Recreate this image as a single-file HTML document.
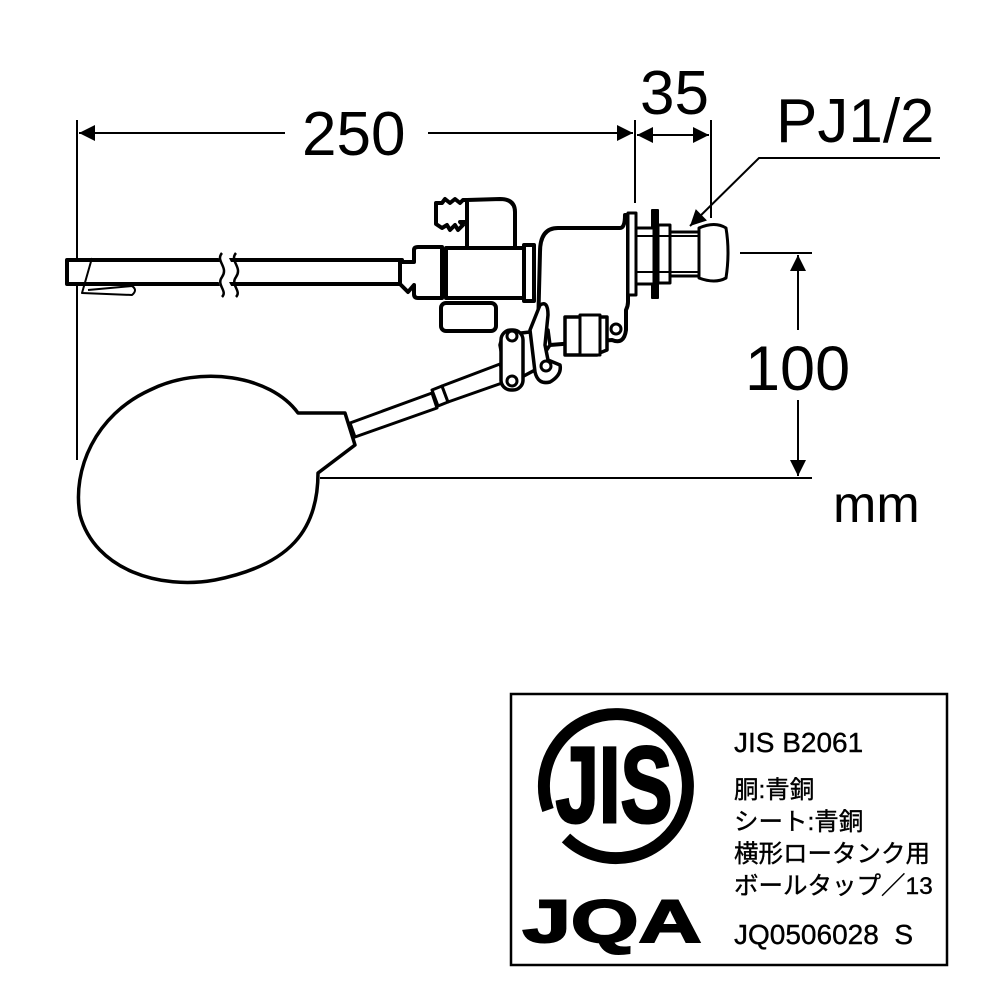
<!DOCTYPE html>
<html><head><meta charset="utf-8"><style>
html,body{margin:0;padding:0;background:#fff;}
svg{display:block;}
</style></head><body>
<svg width="1000" height="1000" viewBox="0 0 1000 1000" xmlns="http://www.w3.org/2000/svg" font-family="Liberation Sans, sans-serif">
<defs>
<marker id="b" viewBox="0 0 10 10" refX="10" refY="5" markerWidth="22" markerHeight="16" markerUnits="userSpaceOnUse" orient="auto-start-reverse"><path d="M0,0 L10,5 L0,10 Z" fill="#000"/></marker>
</defs>
<g stroke="#000" stroke-width="2" fill="none">
<line x1="77" y1="120" x2="77" y2="460"/>
<line x1="635" y1="120" x2="635" y2="203"/>
<line x1="711" y1="120" x2="711" y2="218"/>
<line x1="79" y1="133" x2="285" y2="133" marker-start="url(#b)"/>
<line x1="428" y1="133" x2="633" y2="133" marker-end="url(#b)"/>
<line x1="637" y1="135" x2="709" y2="135" marker-start="url(#b)" marker-end="url(#b)"/>
<line x1="740" y1="253" x2="812" y2="253"/>
<line x1="320" y1="478" x2="812" y2="478"/>
<line x1="798" y1="255" x2="798" y2="330" marker-start="url(#b)"/>
<line x1="798" y1="400" x2="798" y2="476" marker-end="url(#b)"/>
<polyline points="940,158 759,158 690,226" marker-end="url(#b)"/>
</g>
<g font-size="60" fill="#000">
<text x="302" y="155" font-size="62">250</text>
<text x="640" y="114" font-size="62">35</text>
<text x="776" y="142" font-size="62">PJ1/2</text>
<text x="745" y="390" font-size="63">100</text>
<text x="833" y="522" font-size="52">mm</text>
</g>
<g stroke="#000" stroke-width="4" fill="#fff" stroke-linejoin="round">
<rect x="67" y="260" width="335" height="24"/>
<path d="M226,252 c-8,8 8,14 0,24 c-8,8 8,14 0,22" stroke="#fff" stroke-width="10" fill="none"/>
<path d="M222,253 c-7,8 7,14 0,24 c-6,8 6,14 0,20 M236,253 c-7,8 7,14 0,24 c-6,8 6,14 0,20" stroke-width="2.5" fill="none"/>
<path d="M92,258 L82,293 L132,295 Q138,290 132,286 L88,290" stroke-width="2" fill="none"/>
<path d="M298,413 C270,375 200,365 150,390 C95,415 72,470 80,515 C95,570 160,590 215,580 C290,565 318,530 318,473 L355,445 L345,413 Z" stroke-width="3.5"/>
<path d="M350,423 L432,393 L437,408 L355,437 Z" stroke-width="3"/>
<path d="M432,390 L442,386 L448,402 L438,406 Z" stroke-width="3"/>
<path d="M442,386 L500,364 L505,382 L448,402 Z" stroke-width="3"/>
<path d="M400,262 L414,262 L414,250 Q414,247 418,247 L442,247 L442,298 L418,298 Q414,298 414,294 L414,285 L408,292 L400,284 Z"/>
<rect x="441" y="303" width="55" height="28" rx="5"/>
<path d="M436,203 L442,203 L445,199 L450,203 L455,199 L460,203 L463,200 L467,200 L467,222 L460,222 L463,225 L458,230 L455,225 L450,230 L447,225 L442,228 L436,224 Z"/>
<path d="M467,200 L500,199 Q515,199 515,212 L515,252 L467,252 Z"/>
<path d="M540,252 Q540,228 558,228 L620,228 Q625,228 625,215 L628,215 L628,302 Q628,306 626,310 L626,330 Q624,345 612,340 L550,345 L545,345 Q535,345 538,330 Z"/>
<rect x="446" y="248" width="84" height="50"/>
<rect x="524" y="245" width="10" height="56"/>
<rect x="628" y="213" width="8" height="82" stroke-width="3"/>
<rect x="652" y="210" width="6" height="88" fill="#000" stroke-width="2"/>
<rect x="636" y="228" width="18" height="56" stroke-width="3"/>
<rect x="658" y="225" width="12" height="58" stroke-width="3"/>
<rect x="670" y="232" width="30" height="44" stroke-width="3"/>
<line x1="636" y1="236" x2="700" y2="236" stroke-width="2"/>
<line x1="636" y1="272" x2="700" y2="272" stroke-width="2"/>
<path d="M699,228 Q715,221 726,228 Q730,252 726,278 Q715,284 699,278 Z" stroke-width="3"/>
<path d="M565,317 L607,317 L607,350 L597,354 L597,355 L565,355 Z" stroke-width="3.5"/>
<rect x="580" y="315" width="20" height="40" stroke-width="3"/>
<path d="M500,345 Q502,335 512,334 L548,330 L550,345 L540,360 L535,370 L520,378 Q510,378 505,372 Z" stroke-width="3.5"/>
<path d="M540,305 Q548,300 548,315 L545,345 L548,360 L560,365 Q562,375 550,382 Q538,385 535,372 L530,330 Z" stroke-width="3.5"/>
<rect x="501" y="330" width="22" height="60" rx="10" stroke-width="3.5"/>
<circle cx="512" cy="336" r="5" stroke-width="3"/>
<circle cx="512" cy="381" r="5" stroke-width="3"/>
<circle cx="546" cy="366" r="5" stroke-width="3"/>
<circle cx="616" cy="329" r="5" stroke-width="3"/>
</g>
<rect x="511" y="694" width="436" height="271" fill="none" stroke="#000" stroke-width="2.5"/>
<path d="M566,838 A72,72 0 1 0 548,810" fill="none" stroke="#000" stroke-width="12"/>
<text x="614" y="822" font-size="108" font-weight="bold" text-anchor="middle" transform="translate(614,0) scale(0.72,1) translate(-614,0)" fill="#000" stroke="#000" stroke-width="3">JIS</text>
<text x="612" y="942" font-size="60" font-weight="bold" text-anchor="middle" transform="translate(612,0) scale(1.45,1) translate(-612,0)" fill="#000" stroke="#000" stroke-width="2">JQA</text>
<g font-family="Liberation Sans, Noto Sans CJK JP, sans-serif" font-size="24.5" fill="#000" stroke="#000" stroke-width="0.4">
<text x="734" y="752" font-size="28">JIS B2061</text>
<text x="734" y="798">胴:青銅</text>
<text x="734" y="830">シート:青銅</text>
<text x="734" y="862">横形ロータンク用</text>
<text x="734" y="894">ボールタップ／13</text>
<text x="734" y="944" font-size="28" xml:space="preserve">JQ0506028  S</text>
</g>
</svg>
</body></html>
